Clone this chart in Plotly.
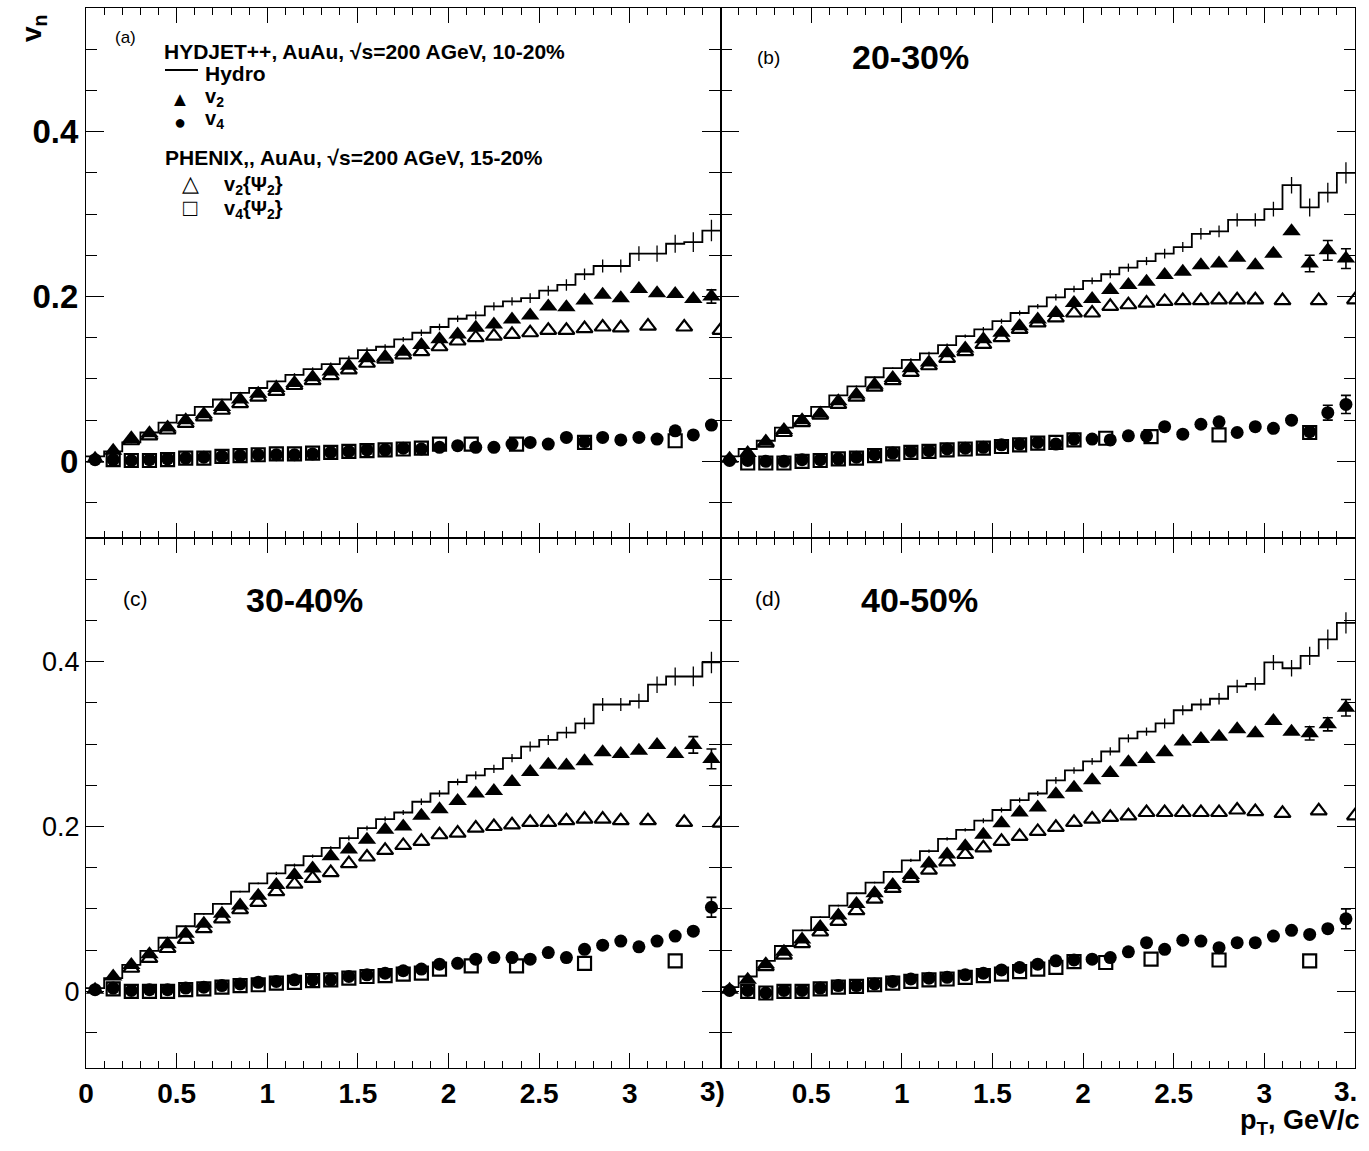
import plotly.graph_objects as go

W, H = 1369, 1151
ML, MR, MT, MB = 86, 14, 8, 83
FONT = "Liberation Sans, Arial, sans-serif"

# ---------------- data ----------------
PT = [round(0.05 + 0.1 * i, 2) for i in range(35)]          # bin centres
EDGES = [round(0.1 * i, 2) for i in range(36)]             # bin edges
PT_PH2 = [round(0.25 + 0.1 * i, 2) for i in range(28)] + [3.1, 3.3, 3.5]
PT_PH4 = [round(0.15 + 0.1 * i, 2) for i in range(19)] + [2.125, 2.375, 2.75, 3.25]

HYDRO_ERR = [0.001, 0.001, 0.001, 0.001, 0.001, 0.001, 0.001, 0.001, 0.001, 0.001,
             0.002, 0.002, 0.002, 0.002, 0.003, 0.003, 0.003, 0.003, 0.004, 0.004,
             0.004, 0.005, 0.005, 0.005, 0.006, 0.006, 0.007, 0.007, 0.008, 0.008,
             0.009, 0.010, 0.011, 0.012, 0.013]

# (a) 10-20%
HYDRO_A = [0.006, 0.012, 0.023, 0.035, 0.047, 0.056, 0.066, 0.075, 0.083,
           0.089, 0.097, 0.105, 0.112, 0.118, 0.125, 0.135, 0.139, 0.148, 0.156,
           0.163, 0.173, 0.177, 0.188, 0.194, 0.198, 0.207, 0.214, 0.227, 0.237,
           0.237, 0.252, 0.252, 0.264, 0.266, 0.280]
V2_A = [0.003, 0.013, 0.028, 0.034, 0.041, 0.050, 0.057, 0.066, 0.075,
        0.082, 0.089, 0.095, 0.102, 0.109, 0.116, 0.125, 0.127, 0.133, 0.141,
        0.148, 0.154, 0.162, 0.166, 0.172, 0.177, 0.188, 0.187, 0.195, 0.202,
        0.198, 0.209, 0.204, 0.203, 0.197, 0.200]
V4_A = [0.002, 0.002, 0.001, 0.002, 0.003, 0.004, 0.005, 0.006, 0.007,
        0.008, 0.008, 0.008, 0.009, 0.011, 0.012, 0.014, 0.014, 0.016, 0.015,
        0.017, 0.019, 0.017, 0.017, 0.021, 0.023, 0.021, 0.029, 0.024, 0.029,
        0.026, 0.029, 0.027, 0.037, 0.032, 0.044]
PH_V2_A = [0.025, 0.031, 0.038, 0.046, 0.054, 0.062, 0.070, 0.078, 0.085, 0.092,
           0.098, 0.104, 0.111, 0.119, 0.124, 0.129, 0.133, 0.139, 0.146, 0.150,
           0.152, 0.154, 0.156, 0.159, 0.159, 0.161, 0.163, 0.162, 0.164, 0.163, 0.159]
PH_V4_A = [0.002, 0.001, 0.001, 0.002, 0.004, 0.004, 0.006, 0.007, 0.008, 0.009,
           0.009, 0.010, 0.011, 0.012, 0.013, 0.014, 0.015, 0.016, 0.021,
           0.021, 0.021, 0.023, 0.025]
V2_ERR_TAIL_A = [0.0, 0.0, 0.0, 0.0, 0.008]
V4_ERR_TAIL_A = [0.0, 0.0, 0.0, 0.0, 0.004]

# (b) 20-30%
HYDRO_B = [0.006, 0.015, 0.025, 0.041, 0.055, 0.066, 0.080, 0.091, 0.102,
           0.113, 0.123, 0.131, 0.141, 0.152, 0.160, 0.170, 0.180, 0.188, 0.199,
           0.209, 0.219, 0.227, 0.235, 0.243, 0.252, 0.260, 0.276, 0.279, 0.293,
           0.293, 0.306, 0.335, 0.308, 0.326, 0.350]
V2_B = [0.003, 0.010, 0.024, 0.038, 0.050, 0.058, 0.073, 0.081, 0.093,
        0.101, 0.113, 0.120, 0.131, 0.137, 0.148, 0.156, 0.164, 0.172, 0.180,
        0.192, 0.197, 0.208, 0.214, 0.218, 0.226, 0.230, 0.238, 0.240, 0.247,
        0.238, 0.252, 0.279, 0.240, 0.256, 0.246]
V4_B = [0.001, 0.001, 0.000, 0.000, 0.002, 0.002, 0.003, 0.005, 0.008,
        0.010, 0.012, 0.013, 0.015, 0.016, 0.017, 0.020, 0.021, 0.023, 0.021,
        0.027, 0.027, 0.026, 0.031, 0.031, 0.042, 0.033, 0.045, 0.048, 0.035,
        0.042, 0.040, 0.050, 0.036, 0.059, 0.069]
PH_V2_B = [0.022, 0.035, 0.047, 0.056, 0.069, 0.078, 0.090, 0.098, 0.108, 0.116,
           0.125, 0.133, 0.142, 0.150, 0.160, 0.168, 0.174, 0.180, 0.180, 0.188,
           0.190, 0.192, 0.194, 0.195, 0.195, 0.196, 0.196, 0.196, 0.195, 0.195, 0.196]
PH_V4_B = [-0.002, -0.002, -0.002, 0.000, 0.001, 0.003, 0.004, 0.007, 0.009, 0.011,
           0.012, 0.014, 0.015, 0.016, 0.018, 0.020, 0.022, 0.023, 0.026,
           0.028, 0.030, 0.032, 0.035]
V2_ERR_TAIL_B = [0.0, 0.0, 0.010, 0.012, 0.012]
V4_ERR_TAIL_B = [0.0, 0.0, 0.0, 0.009, 0.011]

# (c) 30-40%
HYDRO_C = [0.004, 0.016, 0.032, 0.049, 0.065, 0.079, 0.094, 0.106, 0.121,
           0.131, 0.143, 0.153, 0.164, 0.174, 0.186, 0.198, 0.209, 0.217, 0.230,
           0.240, 0.254, 0.262, 0.270, 0.283, 0.297, 0.305, 0.314, 0.325, 0.348,
           0.348, 0.352, 0.372, 0.382, 0.382, 0.399]
V2_C = [0.002, 0.018, 0.032, 0.045, 0.057, 0.070, 0.082, 0.094, 0.104,
        0.116, 0.129, 0.141, 0.149, 0.164, 0.172, 0.184, 0.196, 0.200, 0.213,
        0.221, 0.231, 0.240, 0.243, 0.254, 0.266, 0.275, 0.274, 0.279, 0.290,
        0.288, 0.292, 0.299, 0.288, 0.299, 0.282]
V4_C = [0.002, 0.004, 0.001, 0.002, 0.002, 0.004, 0.005, 0.007, 0.009,
        0.011, 0.012, 0.014, 0.014, 0.014, 0.018, 0.020, 0.022, 0.025, 0.027,
        0.033, 0.034, 0.039, 0.041, 0.041, 0.039, 0.047, 0.041, 0.051, 0.056,
        0.061, 0.054, 0.061, 0.067, 0.073, 0.102]
PH_V2_C = [0.028, 0.040, 0.052, 0.063, 0.076, 0.088, 0.099, 0.108, 0.121, 0.130,
           0.137, 0.144, 0.155, 0.163, 0.171, 0.177, 0.182, 0.190, 0.192, 0.198,
           0.200, 0.202, 0.205, 0.205, 0.207, 0.209, 0.209, 0.207, 0.207, 0.205, 0.204]
PH_V4_C = [0.003, 0.000, 0.000, 0.000, 0.002, 0.003, 0.005, 0.007, 0.008, 0.010,
           0.011, 0.013, 0.014, 0.016, 0.018, 0.019, 0.021, 0.022, 0.027,
           0.031, 0.031, 0.034, 0.037]
V2_ERR_TAIL_C = [0.0, 0.0, 0.0, 0.010, 0.012]
V4_ERR_TAIL_C = [0.0, 0.0, 0.0, 0.0, 0.012]

# (d) 40-50%
HYDRO_D = [0.005, 0.018, 0.037, 0.055, 0.074, 0.090, 0.104, 0.119, 0.132,
           0.145, 0.159, 0.170, 0.185, 0.196, 0.207, 0.220, 0.232, 0.240, 0.256,
           0.268, 0.279, 0.291, 0.307, 0.315, 0.325, 0.341, 0.348, 0.355, 0.370,
           0.373, 0.399, 0.392, 0.407, 0.427, 0.447]
V2_D = [0.002, 0.014, 0.033, 0.048, 0.063, 0.078, 0.092, 0.106, 0.119,
        0.129, 0.141, 0.155, 0.166, 0.176, 0.190, 0.204, 0.217, 0.223, 0.239,
        0.247, 0.256, 0.265, 0.278, 0.282, 0.290, 0.303, 0.306, 0.309, 0.318,
        0.313, 0.328, 0.315, 0.313, 0.324, 0.344]
V4_D = [0.001, 0.001, -0.002, 0.001, 0.001, 0.004, 0.007, 0.007, 0.009,
        0.012, 0.015, 0.016, 0.017, 0.020, 0.022, 0.026, 0.029, 0.033, 0.037,
        0.038, 0.039, 0.041, 0.048, 0.059, 0.051, 0.062, 0.061, 0.053, 0.059,
        0.059, 0.067, 0.074, 0.069, 0.076, 0.088]
PH_V2_D = [0.030, 0.044, 0.058, 0.072, 0.085, 0.098, 0.112, 0.125, 0.137, 0.147,
           0.157, 0.166, 0.174, 0.182, 0.188, 0.194, 0.199, 0.205, 0.209, 0.211,
           0.213, 0.217, 0.217, 0.217, 0.217, 0.217, 0.220, 0.218, 0.216, 0.219, 0.213]
PH_V4_D = [0.000, -0.002, 0.000, 0.000, 0.003, 0.005, 0.006, 0.008, 0.010, 0.012,
           0.014, 0.015, 0.017, 0.019, 0.021, 0.024, 0.027, 0.029, 0.036,
           0.035, 0.039, 0.038, 0.037]
V2_ERR_TAIL_D = [0.0, 0.0, 0.008, 0.008, 0.010]
V4_ERR_TAIL_D = [0.0, 0.0, 0.0, 0.0, 0.012]

PANEL_LABELS = ["(a)", "(b)", "(c)", "(d)"]
CENT_LABELS = ["", "20-30%", "30-40%", "40-50%"]
X_TICKS = [0, 0.5, 1, 1.5, 2, 2.5, 3]
X_TICKTEXT = ["0", "0.5", "1", "1.5", "2", "2.5", "3"]

# ---------------- figure ----------------
PW = W - ML - MR
PH = H - MT - MB


def P(xpx, ypx):
    return (xpx - ML) / PW, (H - MB - ypx) / PH


def pad(tail):
    return [0.0] * (35 - len(tail)) + list(tail)


fig = go.Figure()
panels = [
    ("x", "y", HYDRO_A, V2_A, V4_A, PH_V2_A, PH_V4_A, V2_ERR_TAIL_A, V4_ERR_TAIL_A),
    ("x2", "y2", HYDRO_B, V2_B, V4_B, PH_V2_B, PH_V4_B, V2_ERR_TAIL_B, V4_ERR_TAIL_B),
    ("x3", "y3", HYDRO_C, V2_C, V4_C, PH_V2_C, PH_V4_C, V2_ERR_TAIL_C, V4_ERR_TAIL_C),
    ("x4", "y4", HYDRO_D, V2_D, V4_D, PH_V2_D, PH_V4_D, V2_ERR_TAIL_D, V4_ERR_TAIL_D),
]
for xa, ya, hyd, v2, v4, ph2, ph4, e2, e4 in panels:
    fig.add_trace(go.Scatter(x=EDGES, y=hyd + [hyd[-1]], mode="lines",
                             line=dict(color="black", width=1.8, shape="hv"),
                             xaxis=xa, yaxis=ya, showlegend=False, hoverinfo="skip"))
    fig.add_trace(go.Scatter(x=PT, y=hyd, mode="markers",
                             marker=dict(size=1, color="black"),
                             error_y=dict(type="data", array=HYDRO_ERR, width=0,
                                          thickness=1.3, color="black"),
                             xaxis=xa, yaxis=ya, showlegend=False, hoverinfo="skip"))
    fig.add_trace(go.Scatter(x=PT_PH2, y=ph2, mode="markers",
                             marker=dict(symbol="triangle-up-open", size=14, color="black",
                                         line=dict(width=2.2, color="black")),
                             xaxis=xa, yaxis=ya, showlegend=False))
    fig.add_trace(go.Scatter(x=PT_PH4, y=ph4, mode="markers",
                             marker=dict(symbol="square-open", size=13, color="black",
                                         line=dict(width=2.2, color="black")),
                             xaxis=xa, yaxis=ya, showlegend=False))
    fig.add_trace(go.Scatter(x=PT, y=v2, mode="markers",
                             marker=dict(symbol="triangle-up", size=16, color="black"),
                             error_y=dict(type="data", array=pad(e2), width=5,
                                          thickness=1.6, color="black"),
                             xaxis=xa, yaxis=ya, showlegend=False))
    fig.add_trace(go.Scatter(x=PT, y=v4, mode="markers",
                             marker=dict(symbol="circle", size=13, color="black"),
                             error_y=dict(type="data", array=pad(e4), width=5,
                                          thickness=1.6, color="black"),
                             xaxis=xa, yaxis=ya, showlegend=False))


def xaxis(domain, anchor, tickvals=None, ticktext=None):
    d = dict(domain=domain, anchor=anchor, range=[0, 3.5], showline=True,
             linecolor="black", linewidth=1.3, mirror="allticks", ticks="inside",
             ticklen=15, tickwidth=1.2, tickcolor="black", showgrid=False,
             zeroline=False,
             minor=dict(ticks="inside", tickmode="linear", tick0=0, dtick=0.1,
                        ticklen=7, tickwidth=1, tickcolor="black", showgrid=False))
    if tickvals is None:
        d.update(tickmode="linear", tick0=0, dtick=0.5, showticklabels=False)
    else:
        d.update(tickmode="array", tickvals=tickvals, ticktext=ticktext,
                 showticklabels=True, ticklabelstandoff=0,
                 tickfont=dict(family=FONT, size=28, color="black", weight="bold"))
    return d


def yaxis(domain, anchor, labels, font=None):
    d = dict(domain=domain, anchor=anchor, range=[-0.093, 0.55], showline=True,
             linecolor="black", linewidth=1.3, mirror="allticks", ticks="inside",
             ticklen=18, tickwidth=1.2, tickcolor="black", showgrid=False,
             zeroline=False, tickmode="array", tickvals=[0, 0.2, 0.4],
             ticktext=["0", "0.2", "0.4"], showticklabels=labels,
             minor=dict(ticks="inside", tickmode="linear", tick0=0, dtick=0.05,
                        ticklen=11, tickwidth=1, tickcolor="black", showgrid=False))
    if font:
        d.update(tickfont=font, ticklabelstandoff=0)
    return d


fig.update_layout(
    width=W, height=H, paper_bgcolor="white", plot_bgcolor="white",
    margin=dict(l=ML, r=MR, t=MT, b=MB), showlegend=False,
    xaxis=xaxis([0, 0.5], "y"),
    xaxis2=xaxis([0.5, 1], "y2"),
    xaxis3=xaxis([0, 0.5], "y3", X_TICKS, X_TICKTEXT),
    xaxis4=xaxis([0.5, 1], "y4", X_TICKS[1:], X_TICKTEXT[1:]),
    yaxis=yaxis([0.5, 1], "x", True, dict(family=FONT, size=33, color="black", weight="bold")),
    yaxis2=yaxis([0.5, 1], "x2", False),
    yaxis3=yaxis([0, 0.5], "x3", True, dict(family=FONT, size=27, color="black")),
    yaxis4=yaxis([0, 0.5], "x4", False),
)

ann = []


def add_text(text, xpx, ypx, size, bold=False, xanchor="center", yanchor="middle", angle=0):
    x, y = P(xpx, ypx)
    ann.append(dict(text=text, x=x, y=y, xref="paper", yref="paper", showarrow=False,
                    xanchor=xanchor, yanchor=yanchor, textangle=angle,
                    font=dict(family=FONT, size=size, color="black",
                              weight="bold" if bold else "normal")))


# axis titles
add_text("v<sub>n</sub>", 34, 28, 28, True, angle=-90)
add_text("p<sub>T</sub>, GeV/c", 1362, 1122, 27, True, xanchor="right")
# truncated edge labels
add_text("3)", 712, 1091, 28, True)
add_text("3.", 1345, 1091, 28, True)

# panel labels
add_text(PANEL_LABELS[0], 125, 38, 17)
add_text(PANEL_LABELS[1], 768, 57, 19)
add_text(CENT_LABELS[1], 910, 57, 34, True)
add_text(PANEL_LABELS[2], 135, 598, 21)
add_text(CENT_LABELS[2], 304, 600, 34, True)
add_text(PANEL_LABELS[3], 768, 598, 21)
add_text(CENT_LABELS[3], 920, 600, 34, True)

# legend block in panel (a)
add_text("HYDJET++, AuAu, \u221As=200 AGeV, 10-20%", 162, 52, 21, True, xanchor="left")
add_text("Hydro", 203, 74, 21, True, xanchor="left")
add_text("\u25B2", 180, 99, 20)
add_text("v<sub>2</sub>", 203, 98, 20, True, xanchor="left")
add_text("\u25CF", 180, 122, 20)
add_text("v<sub>4</sub>", 203, 120, 20, True, xanchor="left")
add_text("PHENIX,, AuAu, \u221As=200 AGeV, 15-20%", 163, 157, 21, True, xanchor="left")
add_text("\u25B3", 190, 184, 22)
add_text("v<sub>2</sub>{\u03A8<sub>2</sub>}", 222, 186, 20, True, xanchor="left")
add_text("\u25A1", 190, 208, 24)
add_text("v<sub>4</sub>{\u03A8<sub>2</sub>}", 222, 209, 20, True, xanchor="left")

fig.update_layout(annotations=ann)

x0, y0 = P(165, 70)
x1, y1 = P(198, 70)
fig.add_shape(type="line", x0=x0, y0=y0, x1=x1, y1=y1, xref="paper", yref="paper",
              line=dict(color="black", width=2))

fig.write_html("out.html")
